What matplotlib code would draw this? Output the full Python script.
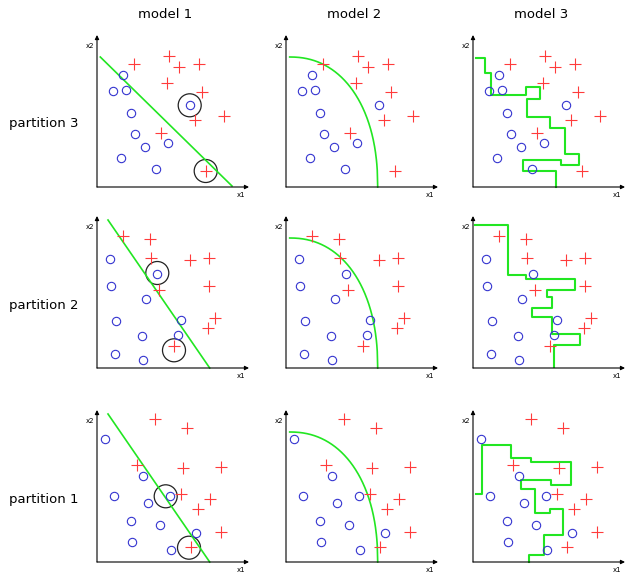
import numpy as np
import matplotlib
matplotlib.use('Agg')
import matplotlib.pyplot as plt
from matplotlib.patches import Circle

# data in pixel units from each panel's axis origin (x right, y up)
models = ['model 1', 'model 2', 'model 3']
partitions = ['partition 3', 'partition 2', 'partition 1']

circles_p3 = [(26, 112.3), (16, 96), (29.3, 97.3), (33.7, 74), (92.7, 82.3), (37.7, 53.3),
              (48.3, 40), (71, 44.3), (24.3, 29.3), (58.7, 17.7)]
plus_p3 = [(36.7, 123.3), (71.7, 131), (81.7, 120), (102, 123.3), (70.3, 104), (105.3, 95),
           (97.7, 67.3), (126.7, 70.7), (64.3, 54.3), (108.7, 16)]
rings_p3 = [(92.7, 81.7), (108.7, 16)]

circles_p2 = [(13.3, 109.3), (60, 94.3), (14.3, 81.7), (49.3, 69.3), (19.3, 47.3), (84.3, 48.3),
              (45.3, 31.7), (81, 32.7), (17.7, 14), (46, 7.7)]
plus_p2 = [(26, 132.3), (53.3, 129), (54.3, 110), (92.7, 108.3), (112, 110), (62, 78.3),
           (112, 82.3), (118.3, 50), (111, 40), (76.7, 21.7)]
rings_p2 = [(60.3, 95), (77, 17.7)]

circles_p1 = [(7.7, 123.3), (46, 85.7), (16.7, 66), (72.7, 66), (51, 59.3), (33.7, 41),
              (62.7, 36.7), (98.7, 29.3), (35.3, 20), (74.3, 11.7)]
plus_p1 = [(58.3, 143.3), (90, 134.3), (40, 97.3), (86, 94), (124.3, 95), (83.7, 67.7),
           (112.7, 63.3), (101, 52.7), (124.3, 30), (93.7, 15)]
rings_p1 = [(68.7, 65.7), (92, 14.3)]

# model 1 straight boundaries (end points)
line_p3 = [(3.3, 130), (135, 1)]
line_p12 = [(11, 148), (112.7, 0)]

# model 2 rounded boundary: superellipse
curve_x0, curve_a, curve_b, curve_n = 3.7, 88, 130, 2.2

# model 3 staircase boundaries
stairs_p3 = [(3.3, 129), (11.7, 129), (11.7, 114.3), (18.3, 114.3), (18.3, 91.7), (53.3, 91.7),
             (53.3, 100), (66.7, 100), (66.7, 87.7), (54.3, 87.7), (54.3, 70), (77.3, 70),
             (77.3, 59), (92.3, 59), (92.3, 33.3), (106, 33.3), (106, 21.7), (88.3, 21.7),
             (88.3, 26.7), (50, 26.7), (50, 16), (83.3, 16), (83.3, 0)]
stairs_p2 = [(2.3, 143.3), (35, 143.3), (35, 92.7), (53.3, 92.7), (53.3, 88.7), (101.7, 88.7),
             (101.7, 77.7), (74.3, 77.7), (74.3, 71), (79, 71), (79, 60.3), (59, 60.3),
             (59, 51), (79.3, 51), (79.3, 34.3), (106.7, 34.3), (106.7, 22.7), (80.7, 22.7),
             (80.7, 1)]
stairs_p1 = [(3.3, 67.7), (9.3, 67.7), (9.3, 117.3), (38.3, 117.3), (38.3, 104), (57.7, 104),
             (57.7, 100), (98.3, 100), (98.3, 76.7), (78.3, 76.7), (78.3, 81.7), (47.7, 81.7),
             (47.7, 73.3), (62, 73.3), (62, 49.3), (77, 49.3), (77, 53.3), (90, 53.3),
             (90, 27.3), (71, 27.3), (71, 6.7), (56, 6.7), (56, 0)]

rows = [
    (circles_p3, plus_p3, rings_p3, line_p3, stairs_p3),
    (circles_p2, plus_p2, rings_p2, line_p12, stairs_p2),
    (circles_p1, plus_p1, rings_p1, line_p12, stairs_p1),
]

col_x = [97, 286, 473]
row_y = [187, 368, 562]

W, H = 626, 573
fig = plt.figure(figsize=(W / 100, H / 100), dpi=100)

blue = '#3535d0'
red = '#ff3b3b'
green = '#22e622'

for r, (circ, plus, rings, line, stairs) in enumerate(rows):
    for c in range(3):
        ox, oy = col_x[c], row_y[r]
        ax = fig.add_axes([(ox - 15) / W, 1 - (oy + 15) / H, 175 / W, 175 / H])
        ax.set_xlim(-15, 160)
        ax.set_ylim(-15, 160)
        ax.axis('off')

        # axes with arrows
        ax.annotate('', xy=(152, 0), xytext=(0, 0),
                    arrowprops=dict(arrowstyle='-|>', color='black', lw=0.8,
                                    mutation_scale=6, shrinkA=0, shrinkB=0))
        ax.annotate('', xy=(0, 152), xytext=(0, 0),
                    arrowprops=dict(arrowstyle='-|>', color='black', lw=0.8,
                                    mutation_scale=6, shrinkA=0, shrinkB=0))
        ax.text(144, -8, 'x1', fontsize=5, ha='center', va='center')
        ax.text(-7, 141, 'x2', fontsize=5, ha='center', va='center')

        # boundary
        if c == 0:
            lx, ly = zip(*line)
            ax.plot(lx, ly, color=green, lw=1.2)
        elif c == 1:
            t = np.linspace(0, 1, 200)
            xs = curve_x0 + curve_a * t
            ys = curve_b * (1 - t ** curve_n) ** (1 / curve_n)
            ax.plot(xs, ys, color=green, lw=1.2)
        else:
            sx, sy = zip(*stairs)
            ax.plot(sx, sy, color=green, lw=1.5)

        cx, cy = zip(*circ)
        ax.plot(cx, cy, 'o', ms=6, mfc='none', mec=blue, mew=0.8)
        px, py = zip(*plus)
        ax.plot(px, py, '+', ms=8, color=red, mew=0.8)

        if c == 0:
            for (rx, ry) in rings:
                ax.add_patch(Circle((rx, ry), 11.5, fill=False, ec='#222222', lw=0.9))

for c, name in enumerate(models):
    fig.text((col_x[c] + 68) / W, 1 - 15 / H, name, fontsize=9.5, ha='center', va='center')
for r, name in enumerate(partitions):
    fig.text(44 / W, 1 - (row_y[r] - 63) / H, name, fontsize=9.5, ha='center', va='center')

fig.savefig('out.png', dpi=100, facecolor='white')
